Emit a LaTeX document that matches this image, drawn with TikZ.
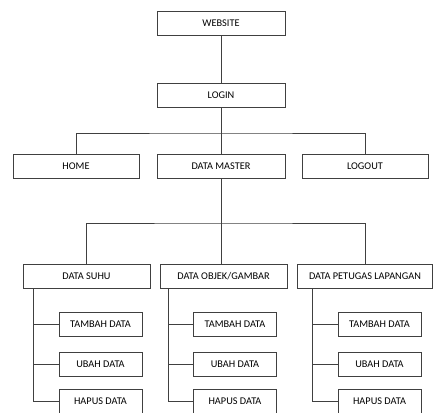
\documentclass[tikz,border=0pt]{standalone}
\usepackage{fontspec}
\setmainfont{Carlito}
\usetikzlibrary{positioning}

\begin{document}
\begin{tikzpicture}[x=1pt,y=-1pt,
  box/.style={draw=black!75, line width=0.9pt, minimum width=128pt, minimum height=24pt,
    inner sep=0pt, font=\fontsize{10.3}{12}\selectfont},
  subbox/.style={box, minimum width=83pt},
  link/.style={draw=black!75, line width=0.9pt}]
  \useasboundingbox (0,0) rectangle (433,412);
  % top levels
  \node[box] (website) at (221,23) {WEBSITE};
  \node[box] (login) at (221,95) {LOGIN};
  \node[box, minimum width=126pt] (home) at (76,166.5) {HOME};
  \node[box] (master) at (221,166.5) {DATA MASTER};
  \node[box, minimum width=126pt] (logout) at (365,166.5) {LOGOUT};
  \node[box, minimum width=127pt] (suhu) at (86.5,276) {DATA SUHU};
  \node[box, minimum width=127pt] (objek) at (223.5,276) {DATA OBJEK/GAMBAR};
  \node[box, minimum width=135pt] (petugas) at (365,276) {DATA PETUGAS LAPANGAN};
  % sub menus
  \foreach \col/\cx in {suhu/100.5, objek/235, petugas/379.5} {
    \node[subbox] (tambah-\col) at (\cx,324) {TAMBAH DATA};
    \node[subbox] (ubah-\col) at (\cx,364) {UBAH DATA};
    \node[subbox] (hapus-\col) at (\cx,401) {HAPUS DATA};
  }
  % connectors
  \coordinate (fork1) at (221,133);
  \coordinate (fork2) at (221,223);
  \draw[link] (website) -- (login);
  \draw[link] (login) -- (master);
  \draw[link] (home.north) |- (fork1) -| (logout.north);
  \draw[link] (master.south) -- (master.south |- objek.north);
  \draw[link] (suhu.north) |- (fork2) -| (petugas.north);
  \foreach \col in {suhu, objek, petugas} {
    \coordinate (spine-\col) at ([xshift=-25pt]tambah-\col.west);
    \draw[link] (\col.south -| spine-\col) |- (hapus-\col.west);
    \draw[link] (tambah-\col.west) -- (tambah-\col.west -| spine-\col);
    \draw[link] (ubah-\col.west) -- (ubah-\col.west -| spine-\col);
  }
\end{tikzpicture}
\end{document}
